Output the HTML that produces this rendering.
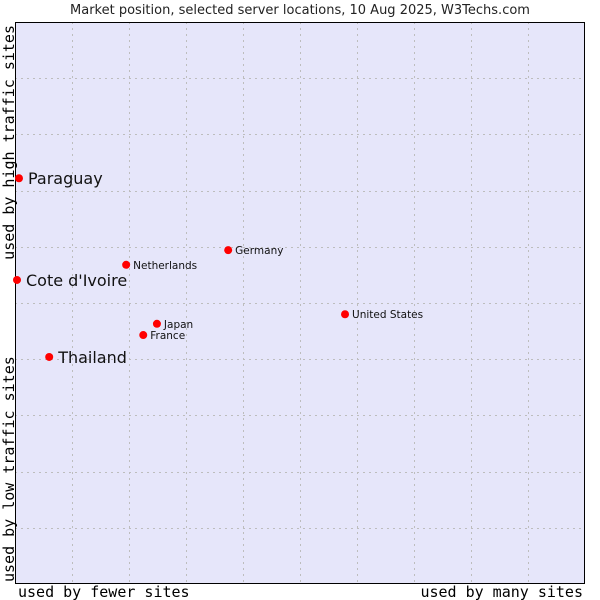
<!DOCTYPE html>
<html><head><meta charset="utf-8"><style>
html,body{margin:0;padding:0;background:#fff;width:600px;height:600px;overflow:hidden}
text{font-family:"DejaVu Sans","Liberation Sans",sans-serif}
</style></head><body>
<svg id="chart" width="600" height="600" xmlns="http://www.w3.org/2000/svg">
<text x="300" y="14" text-anchor="middle" font-size="13" fill="#222">Market position, selected server locations, 10 Aug 2025, W3Techs.com</text>
<rect x="15" y="22" width="570" height="562" fill="#e6e6fa" stroke="none"/>
<g id="grid"></g>
<rect x="15.5" y="22.5" width="569" height="561" fill="none" stroke="#000" stroke-width="1"/>
<g id="points"></g>
<text x="18" y="597" font-size="15" style="font-family:'DejaVu Sans Mono',monospace">used by fewer sites</text>
<text x="583" y="597" text-anchor="end" font-size="15" style="font-family:'DejaVu Sans Mono',monospace">used by many sites</text>
<text transform="translate(14,25) rotate(-90)" text-anchor="end" font-size="15" style="font-family:'DejaVu Sans Mono',monospace">used by high traffic sites</text>
<text transform="translate(14,582) rotate(-90)" font-size="15" style="font-family:'DejaVu Sans Mono',monospace">used by low traffic sites</text>
</svg>
<script>
const names=["Paraguay","Cote d'Ivoire","Thailand","Netherlands","Germany","United States","Japan","France"];
const xVals=[0.7,0.35,6.0,19.5,37.4,57.9,24.9,22.5];
const yVals=[72.2,54.1,40.4,56.8,59.4,48.0,46.3,44.3];
const bigLabel=[true,true,true,false,false,false,false,false];
const L=15,R=585,T=22,B=584;
const sx=v=>L+v/100*(R-L);
const sy=v=>B-v/100*(B-T);
const ns="http://www.w3.org/2000/svg";
const grid=document.getElementById('grid');
for(let i=1;i<10;i++){
  const x=Math.round(sx(i*10))+0.5;
  const l=document.createElementNS(ns,'line');
  
  
  l.setAttribute('x1',x);l.setAttribute('x2',x);l.setAttribute('y1',T);l.setAttribute('y2',B);
  l.setAttribute('stroke','#bdbdbd');l.setAttribute('stroke-dasharray','2,4');
  grid.appendChild(l);
  const y=Math.round(sy(i*10))+0.5;
  const h=document.createElementNS(ns,'line');
  
  
  h.setAttribute('x1',L);h.setAttribute('x2',R);h.setAttribute('y1',y);h.setAttribute('y2',y);
  h.setAttribute('stroke','#bdbdbd');h.setAttribute('stroke-dasharray','2,4');
  grid.appendChild(h);
}
const pts=document.getElementById('points');
names.forEach((n,i)=>{
  const x=sx(xVals[i]),y=sy(yVals[i]);
  const c=document.createElementNS(ns,'circle');
  
  
  c.setAttribute('cx',x);c.setAttribute('cy',y);c.setAttribute('r',4);c.setAttribute('fill','#ff0000');
  pts.appendChild(c);
  const t=document.createElementNS(ns,'text');
  
  
  t.setAttribute('x',x+(bigLabel[i]?9:7));t.setAttribute('y',y+(bigLabel[i]?6:4));
  t.setAttribute('font-size',bigLabel[i]?16:10.5);t.setAttribute('fill','#111');
  t.textContent=n;
  pts.appendChild(t);
});
</script>
</body></html>
